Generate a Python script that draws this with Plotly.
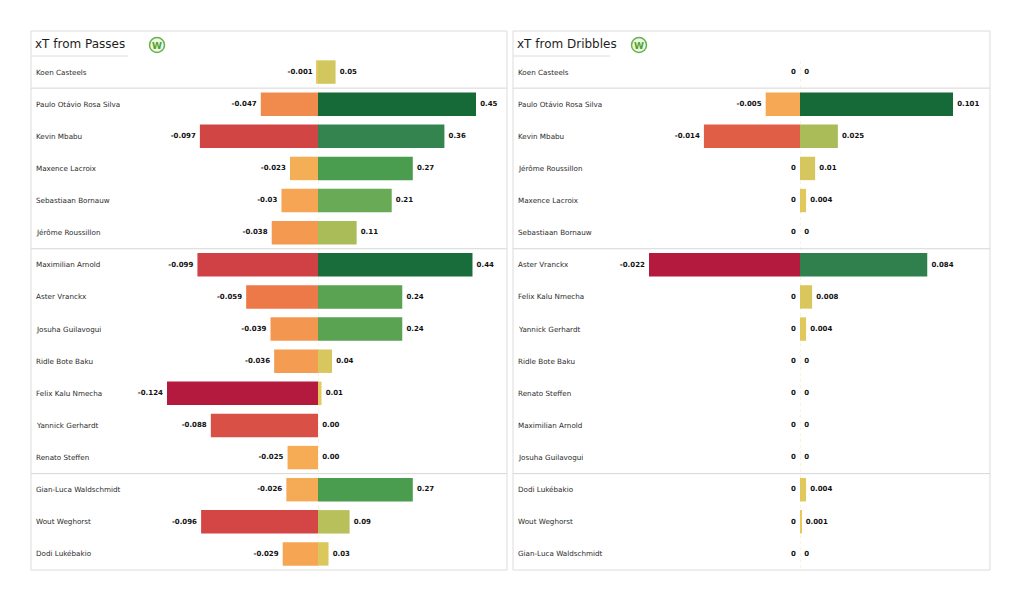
import plotly.graph_objects as go

# ---------------- data ----------------
passes_players = [
    "Koen Casteels", "Paulo Otávio Rosa Silva", "Kevin Mbabu", "Maxence Lacroix",
    "Sebastiaan Bornauw", "Jérôme Roussillon", "Maximilian Arnold", "Aster Vranckx",
    "Josuha Guilavogui", "Ridle Bote Baku", "Felix Kalu Nmecha", "Yannick Gerhardt",
    "Renato Steffen", "Gian-Luca Waldschmidt", "Wout Weghorst", "Dodi Lukébakio",
]
passes_neg = [-0.001, -0.047, -0.097, -0.023, -0.03, -0.038, -0.099, -0.059,
              -0.039, -0.036, -0.124, -0.088, -0.025, -0.026, -0.096, -0.029]
passes_pos = [0.05, 0.45, 0.36, 0.27, 0.21, 0.11, 0.44, 0.24,
              0.24, 0.04, 0.01, 0.00, 0.00, 0.27, 0.09, 0.03]

dribbles_players = [
    "Koen Casteels", "Paulo Otávio Rosa Silva", "Kevin Mbabu", "Jérôme Roussillon",
    "Maxence Lacroix", "Sebastiaan Bornauw", "Aster Vranckx", "Felix Kalu Nmecha",
    "Yannick Gerhardt", "Ridle Bote Baku", "Renato Steffen", "Maximilian Arnold",
    "Josuha Guilavogui", "Dodi Lukébakio", "Wout Weghorst", "Gian-Luca Waldschmidt",
]
dribbles_neg = [0, -0.005, -0.014, 0, 0, 0, -0.022, 0, 0, 0, 0, 0, 0, 0, 0, 0]
dribbles_pos = [0, 0.101, 0.025, 0.01, 0.004, 0, 0.084, 0.008, 0.004, 0, 0, 0, 0, 0.004, 0.001, 0]

group_breaks = [0.5, 5.5, 12.5]   # GK | DEF | MID | FWD
panel_titles = ["xT from Passes", "xT from Dribbles"]

# ---------------- styling ----------------
W, H = 1024, 602
def px(p):
    return p / W
def py(p):
    return 1 - p / H

NEG_SCALE = [[0, "#b41a3e"], [0.22, "#d24545"], [0.5, "#ed7547"],
             [0.78, "#f6a954"], [1, "#e6cb60"]]
POS_SCALE = [[0, "#e8c95a"], [0.1, "#d5c75e"], [0.25, "#a8bc58"], [0.47, "#67aa55"],
             [0.6, "#4a9c4e"], [0.8, "#348450"], [1, "#166a37"]]

FONT = "DejaVu Sans"
ROW_TOP, ROW_BOT = 56, 570
BAR_W = 0.73

panels = [
    dict(players=passes_players, neg=passes_neg, pos=passes_pos,
         xn="x", xp="x2", y="y", left=31, right=507, zero=318, negw=151, posw=158,
         negfmt=lambda v: f"{v:g}", posfmt=lambda v: f"{v:.2f}"),
    dict(players=dribbles_players, neg=dribbles_neg, pos=dribbles_pos,
         xn="x3", xp="x4", y="y2", left=513, right=990, zero=800, negw=151, posw=153,
         negfmt=lambda v: f"{v:g}", posfmt=lambda v: f"{v:g}"),
]

fig = go.Figure()
shapes = []
annotations = []
layout_axes = {}

for i, p in enumerate(panels):
    # panel frame
    shapes.append(dict(type="rect", xref="paper", yref="paper",
                       x0=px(p["left"]), x1=px(p["right"]), y0=py(ROW_BOT), y1=py(31),
                       line=dict(color="#dcdcdc", width=1), fillcolor="white", layer="below"))
    shapes.append(dict(type="line", xref="paper", yref="paper",
                       x0=px(p["left"]), x1=px(p["left"] + 97), y0=py(ROW_TOP), y1=py(ROW_TOP),
                       line=dict(color="#dcdcdc", width=1)))
    # group separators
    for b in group_breaks:
        shapes.append(dict(type="line", xref="paper", yref=p["y"],
                           x0=px(p["left"]), x1=px(p["right"]), y0=b, y1=b,
                           line=dict(color="#d6d6d6", width=1)))
    # faint zero line
    shapes.append(dict(type="line", xref=p["xp"], yref="paper", x0=0, x1=0,
                       y0=py(ROW_BOT - 2), y1=py(ROW_TOP + 2),
                       line=dict(color="rgba(225,200,90,0.45)", width=1, dash="dot"), layer="below"))
    # logo
    lx = p["left"] + 126
    shapes.append(dict(type="circle", xref="paper", yref="paper",
                       x0=px(lx - 7.5), x1=px(lx + 7.5), y0=py(45 + 7.5), y1=py(45 - 7.5),
                       line=dict(color="#65b446", width=1.5), fillcolor="#eef7e6"))
    annotations.append(dict(text="<b>W</b>", x=px(lx), y=py(45.5), xref="paper", yref="paper",
                            showarrow=False, xanchor="center", yanchor="middle",
                            font=dict(family=FONT, size=9, color="#4fa22f")))
    # title
    annotations.append(dict(text=panel_titles[i], x=px(p["left"] + 2), y=py(44),
                            xref="paper", yref="paper", showarrow=False,
                            xanchor="left", yanchor="middle",
                            font=dict(family=FONT, size=12, color="#1e1e1e")))
    # player names
    for name in p["players"]:
        annotations.append(dict(text=name, x=px(p["left"] + 3), y=name, xref="paper",
                                yref=p["y"], showarrow=False, xanchor="left", yanchor="middle",
                                font=dict(family=FONT, size=7.2, color="#2b2b2b")))

    nmin = min(p["neg"])
    pmax = max(p["pos"])
    # bars
    fig.add_trace(go.Bar(y=p["players"], x=p["neg"], orientation="h", xaxis=p["xn"], yaxis=p["y"],
                         width=BAR_W, hoverinfo="skip",
                         marker=dict(color=p["neg"], colorscale=NEG_SCALE, cmin=nmin, cmax=0,
                                     line=dict(width=0))))
    fig.add_trace(go.Bar(y=p["players"], x=p["pos"], orientation="h", xaxis=p["xp"], yaxis=p["y"],
                         width=BAR_W, hoverinfo="skip",
                         marker=dict(color=p["pos"], colorscale=POS_SCALE, cmin=0, cmax=pmax,
                                     line=dict(width=0))))
    # value labels
    fig.add_trace(go.Scatter(y=p["players"], x=p["neg"], xaxis=p["xn"], yaxis=p["y"],
                             mode="markers+text", text=[p["negfmt"](v) for v in p["neg"]],
                             textposition="middle left", hoverinfo="skip", cliponaxis=False,
                             marker=dict(size=5, color="rgba(0,0,0,0)"),
                             textfont=dict(family=FONT, size=7, color="#111", weight="bold")))
    fig.add_trace(go.Scatter(y=p["players"], x=p["pos"], xaxis=p["xp"], yaxis=p["y"],
                             mode="markers+text", text=[p["posfmt"](v) for v in p["pos"]],
                             textposition="middle right", hoverinfo="skip", cliponaxis=False,
                             marker=dict(size=5, color="rgba(0,0,0,0)"),
                             textfont=dict(family=FONT, size=7, color="#111", weight="bold")))

    yname = "yaxis" if p["y"] == "y" else "yaxis2"
    xn_name = "xaxis" if p["xn"] == "x" else "xaxis" + p["xn"][1:]
    xp_name = "xaxis" + p["xp"][1:]
    hidden = dict(visible=False, showgrid=False, zeroline=False, fixedrange=True)
    layout_axes[xn_name] = dict(domain=[px(p["zero"] - p["negw"]), px(p["zero"])],
                                range=[nmin, 0], anchor=p["y"], **hidden)
    layout_axes[xp_name] = dict(domain=[px(p["zero"]), px(p["zero"] + p["posw"])],
                                range=[0, pmax], anchor=p["y"], **hidden)
    layout_axes[yname] = dict(domain=[py(ROW_BOT), py(ROW_TOP)], type="category",
                              categoryorder="array", categoryarray=p["players"],
                              range=[15.5, -0.5], anchor=p["xn"], **hidden)

fig.update_layout(
    width=W, height=H, margin=dict(l=0, r=0, t=0, b=0),
    paper_bgcolor="white", plot_bgcolor="rgba(0,0,0,0)",
    showlegend=False, barmode="overlay",
    shapes=shapes, annotations=annotations,
    **layout_axes,
)

fig.write_html("out.html")
